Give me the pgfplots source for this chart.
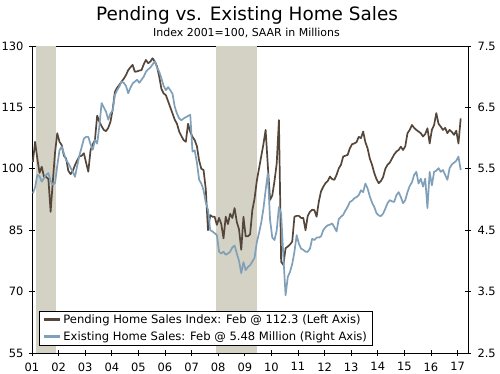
\documentclass[border=0pt]{standalone}
\usepackage{pgfplots}
\pgfplotsset{compat=1.18}
\usepackage{pgfplotstable}
\usepackage{fontspec}
\setmainfont{DejaVu Sans}
\definecolor{pend}{RGB}{84,70,58}
\definecolor{exist}{RGB}{127,160,184}
\definecolor{recess}{RGB}{212,210,197}

\pgfplotstableread{
n p e
0 101.7 5.10
1 106.6 5.20
2 102.5 5.40
3 99.0 5.38
4 100.5 5.29
5 98.1 5.35
6 98.0 5.40
7 97.5 5.43
8 89.5 5.30
9 97.0 5.24
10 104.0 5.27
11 108.7 5.55
12 106.6 5.80
13 105.8 5.86
14 103.2 5.75
15 102.5 5.64
16 99.5 5.59
17 98.7 5.52
18 99.5 5.45
19 100.9 5.37
20 102.1 5.55
21 103.0 5.72
22 103.2 5.85
23 103.8 5.99
24 101.5 6.02
25 99.3 6.02
26 104.5 5.90
27 106.0 5.81
28 107.0 5.97
29 113.0 5.91
30 111.5 6.20
31 110.4 6.57
32 109.5 6.50
33 109.2 6.43
34 110.0 6.30
35 111.5 6.40
36 114.5 6.45
37 118.8 6.70
38 119.8 6.78
39 120.5 6.84
40 121.3 6.92
41 122.0 6.90
42 122.9 6.85
43 124.1 6.73
44 124.8 6.82
45 125.4 6.89
46 123.7 6.92
47 123.8 6.95
48 124.0 6.90
49 124.1 6.95
50 125.5 7.00
51 126.6 7.08
52 125.8 7.12
53 126.2 7.15
54 127.0 7.20
55 126.2 7.25
56 125.0 7.15
57 122.5 7.08
58 119.5 6.97
59 118.4 6.85
60 118.0 6.78
61 116.5 6.83
62 115.0 6.78
63 113.5 6.72
64 112.0 6.51
65 111.0 6.40
66 109.1 6.32
67 108.0 6.29
68 107.0 6.32
69 106.6 6.34
70 111.0 6.36
71 109.0 6.38
72 107.8 5.78
73 107.0 5.80
74 105.5 5.60
75 102.0 5.32
76 100.0 5.26
77 99.7 5.15
78 95.0 4.95
79 85.0 4.83
80 88.7 4.50
81 88.3 4.48
82 88.3 4.45
83 86.3 4.42
84 88.0 4.15
85 86.5 4.12
86 83.0 4.15
87 88.3 4.10
88 86.5 4.12
89 89.0 4.15
90 88.0 4.22
91 90.4 4.25
92 87.0 4.12
93 85.2 4.00
94 80.2 3.80
95 88.3 3.98
96 83.5 3.85
97 83.5 3.90
98 84.0 3.93
99 89.9 3.99
100 92.7 4.05
101 97.0 4.30
102 100.0 4.45
103 103.0 4.62
104 106.0 4.85
105 109.5 5.15
106 100.7 5.43
107 92.4 4.67
108 93.5 4.38
109 97.0 4.34
110 101.3 4.50
111 111.9 4.88
112 77.3 4.77
113 76.5 4.07
114 80.6 3.44
115 81.0 3.74
116 81.5 3.82
117 82.2 3.95
118 88.3 4.15
119 88.5 4.42
120 88.5 4.28
121 88.0 4.20
122 88.0 4.18
123 85.0 4.15
124 88.5 4.15
125 89.5 4.20
126 90.0 4.36
127 89.9 4.34
128 88.3 4.38
129 92.0 4.38
130 94.5 4.40
131 95.6 4.50
132 96.5 4.55
133 97.0 4.58
134 98.1 4.59
135 97.5 4.61
136 97.3 4.55
137 98.5 4.48
138 100.1 4.68
139 101.0 4.72
140 103.0 4.75
141 103.2 4.82
142 103.4 4.88
143 105.0 4.96
144 106.0 4.98
145 106.2 5.02
146 106.5 5.04
147 107.8 5.07
148 107.5 5.15
149 109.1 5.12
150 106.5 5.26
151 105.0 5.18
152 102.5 5.05
153 101.0 4.95
154 99.0 4.88
155 97.5 4.78
156 96.5 4.74
157 97.0 4.73
158 98.0 4.77
159 100.0 4.85
160 101.0 4.94
161 101.5 4.99
162 102.5 4.97
163 103.5 4.96
164 104.2 5.07
165 104.6 5.12
166 105.4 5.04
167 104.6 4.94
168 105.5 4.99
169 108.7 5.12
170 109.5 5.22
171 110.7 5.28
172 110.0 5.40
173 109.5 5.45
174 109.1 5.26
175 108.7 5.34
176 107.9 5.21
177 108.5 5.34
178 109.9 4.86
179 106.2 5.45
180 109.5 5.23
181 110.7 5.45
182 113.6 5.47
183 111.0 5.51
184 110.3 5.45
185 109.5 5.48
186 110.0 5.40
187 108.7 5.32
188 109.5 5.51
189 109.0 5.57
190 108.3 5.60
191 109.3 5.63
192 106.2 5.70
193 112.3 5.48
}\data

\pgfplotsset{
  common/.style={
    at={(0,0)}, anchor=south west,
    scale only axis, width=436bp, height=307bp,
    xmin=0, xmax=196.7,
    tick align=center, major tick length=6bp,
    tick style={black, line width=0.8bp},
    axis line style={black, line width=0.8bp},
    ticklabel style={font=\fontsize{11.5}{13}\selectfont},
    /pgf/number format/assume math mode=true,
    clip=true,
  }
}

\begin{document}
\begin{tikzpicture}
\useasboundingbox (-32bp,-21bp) rectangle (468bp,353bp);
\begin{axis}[common,
  ymin=55, ymax=130,
  xtick={0,12,...,192},
  xticklabels={01,02,03,04,05,06,07,08,09,10,11,12,13,14,15,16,17},
  ytick={55,70,85,100,115,130},
  xtick pos=bottom, ytick pos=left,
  yticklabel style={xshift=-2bp},
  xticklabel style={yshift=-3bp},
]
\addplot[fill=recess, draw=none] coordinates {(1.8,55) (10.8,55) (10.8,130) (1.8,130)} -- cycle;
\addplot[fill=recess, draw=none] coordinates {(83.0,55) (101.6,55) (101.6,130) (83.0,130)} -- cycle;
\addplot[pend, line width=1.7bp, line join=round] table[x expr=\thisrow{n}+0.4, y=p]{\data};
\end{axis}
\begin{axis}[common,
  axis x line=none, axis y line*=right,
  ymin=2.5, ymax=7.5,
  ytick={2.5,3.5,4.5,5.5,6.5,7.5},
  yticklabel style={xshift=3bp, /pgf/number format/.cd, fixed, fixed zerofill, precision=1},
  legend style={at={(0.0161,0.0228)}, anchor=south west, draw=black, line width=0.8bp,
    fill=white, font=\fontsize{11.6}{13}\selectfont, inner xsep=3bp, inner ysep=1.5bp,
    row sep=3bp},
  legend cell align=left,
  legend image code/.code={\draw[#1] (0bp,0bp) -- (16bp,0bp);},
]
\addplot[exist, line width=1.7bp, line join=round, forget plot] table[x expr=\thisrow{n}+0.4, y=e]{\data};
\addlegendimage{pend, line width=3bp}
\addlegendentry{Pending Home Sales Index: Feb @ 112.3 (Left Axis)}
\addlegendimage{exist, line width=3bp}
\addlegendentry{Existing Home Sales: Feb @ 5.48 Million (Right Axis)}
\end{axis}
\node[font=\fontsize{18.5}{20}\selectfont] at (215bp,338bp) {Pending vs. Existing Home Sales};
\node[font=\fontsize{11}{13}\selectfont] at (214.5bp,320bp) {Index 2001=100, SAAR in Millions};
\end{tikzpicture}
\end{document}
